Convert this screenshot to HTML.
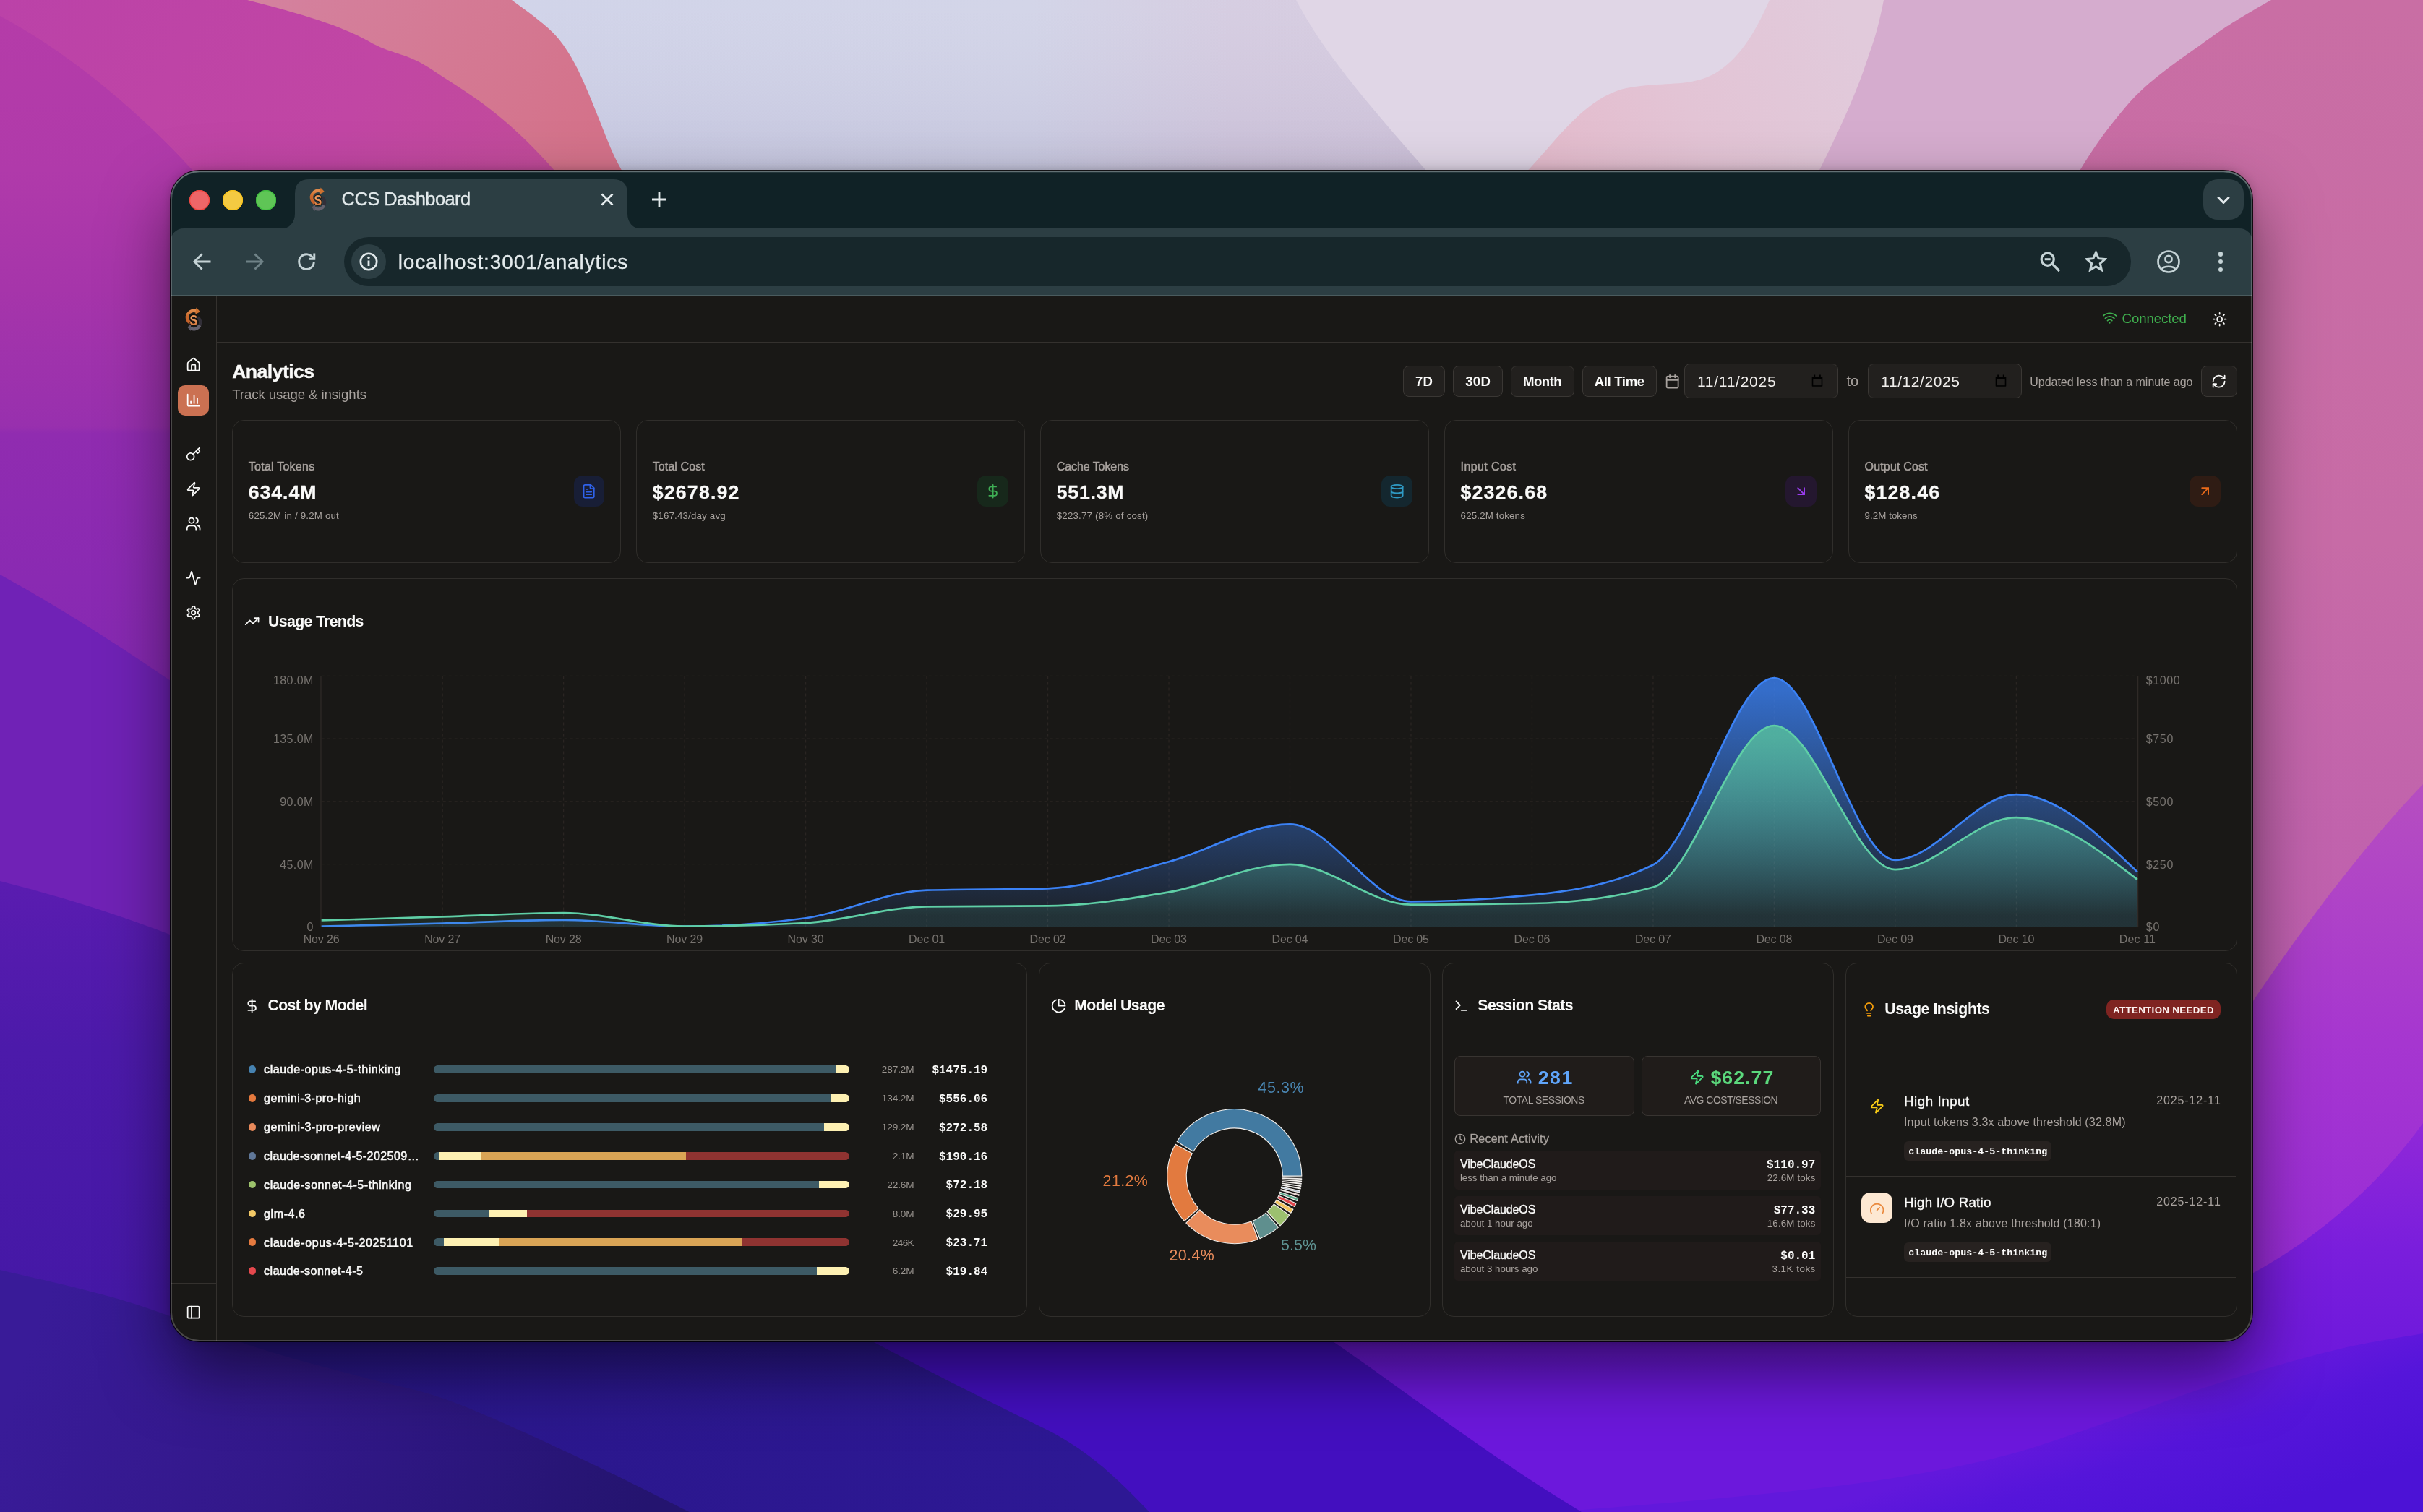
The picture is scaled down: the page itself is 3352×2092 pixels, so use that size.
<!DOCTYPE html>
<html lang="en"><head><meta charset="utf-8"><title>CCS Dashboard</title>
<style>
html,body{margin:0;padding:0;width:3352px;height:2092px;overflow:hidden;background:#7a24b2}
body{position:relative;font-family:"Liberation Sans",sans-serif}
#win{position:absolute;left:236px;top:236px;width:2880px;height:1620px;border-radius:40px;overflow:hidden;background:#191816;will-change:transform}
#shadow{position:absolute;left:236px;top:236px;width:2880px;height:1620px;border-radius:40px;box-shadow:0 0 0 1px rgba(0,0,0,0.88),0 42px 92px 0 rgba(0,0,0,0.52),0 0 14px 0 rgba(0,0,0,0.22)}
#rim{position:absolute;left:0;top:0;width:2880px;height:1620px;border-radius:40px;box-shadow:inset 0 0 0 2px rgba(255,255,255,0.215),inset 0 2.5px 0 0 rgba(225,240,242,0.2);pointer-events:none}
</style></head><body>
<svg id="wall" width="3352" height="2092" viewBox="0 0 3352 2092" style="position:absolute;left:0;top:0">
<defs>
<linearGradient id="gL" gradientUnits="userSpaceOnUse" x1="0" y1="0" x2="0" y2="1000">
 <stop offset="0" stop-color="#b53ca8"/><stop offset="0.235" stop-color="#b03aaa"/><stop offset="0.4" stop-color="#a635aa"/>
 <stop offset="0.59" stop-color="#9830ae"/><stop offset="0.6" stop-color="#902cb0"/><stop offset="0.8" stop-color="#8a2ab2"/><stop offset="1" stop-color="#8428b2"/>
</linearGradient>
<linearGradient id="gMag" x1="0" y1="0" x2="1" y2="0.35">
 <stop offset="0" stop-color="#bb42a8"/><stop offset="0.55" stop-color="#c146a4"/><stop offset="1" stop-color="#c24e94"/>
</linearGradient>
<linearGradient id="gSal" x1="0" y1="0" x2="1" y2="0.3">
 <stop offset="0" stop-color="#d4829f"/><stop offset="1" stop-color="#d4728a"/>
</linearGradient>
<linearGradient id="gLav" x1="0" y1="0" x2="1" y2="0">
 <stop offset="0" stop-color="#cfd2e8"/><stop offset="0.36" stop-color="#d1d3e7"/><stop offset="0.5" stop-color="#d4cbe0"/><stop offset="1" stop-color="#d8c8dc"/>
</linearGradient>
<linearGradient id="gLavV" x1="0" y1="0" x2="0" y2="1">
 <stop offset="0" stop-color="#fff" stop-opacity="0.05"/><stop offset="1" stop-color="#6a5a90" stop-opacity="0.12"/>
</linearGradient>
<linearGradient id="gPinkR" x1="0" y1="0" x2="0" y2="1">
 <stop offset="0" stop-color="#c96ea4"/><stop offset="0.5" stop-color="#c76ba6"/><stop offset="1" stop-color="#bc5cb2"/>
</linearGradient>
<linearGradient id="gPurR" gradientUnits="userSpaceOnUse" x1="0" y1="1085" x2="0" y2="1800">
 <stop offset="0" stop-color="#b64ec0"/><stop offset="0.5" stop-color="#a636d0"/><stop offset="1" stop-color="#962ad8"/>
</linearGradient>
<filter id="soft" x="-10%" y="-10%" width="120%" height="120%"><feGaussianBlur stdDeviation="7"/></filter>
<filter id="soft2" x="-10%" y="-10%" width="120%" height="120%"><feGaussianBlur stdDeviation="3"/></filter>
<linearGradient id="gVioB" gradientUnits="userSpaceOnUse" x1="0" y1="1554" x2="0" y2="1900">
 <stop offset="0" stop-color="#9028d8"/><stop offset="0.5" stop-color="#7a1edc"/><stop offset="1" stop-color="#6c18dc"/>
</linearGradient>
<linearGradient id="gBlueV" gradientUnits="userSpaceOnUse" x1="2880" y1="1975" x2="2935" y2="2150">
 <stop offset="0" stop-color="#6218dc"/><stop offset="0.35" stop-color="#5515da"/><stop offset="1" stop-color="#4c12d6"/>
</linearGradient>
<linearGradient id="gB" gradientUnits="userSpaceOnUse" x1="400" y1="1850" x2="1500" y2="2092">
 <stop offset="0" stop-color="#2a178a"/><stop offset="1" stop-color="#2d1894"/>
</linearGradient>
<linearGradient id="gBV" gradientUnits="userSpaceOnUse" x1="0" y1="1219" x2="0" y2="1800">
 <stop offset="0" stop-color="#5a1cb0"/><stop offset="0.4" stop-color="#4c1aaa"/><stop offset="1" stop-color="#4518a6"/>
</linearGradient>
<linearGradient id="gA" gradientUnits="userSpaceOnUse" x1="60" y1="1800" x2="900" y2="2080">
 <stop offset="0" stop-color="#391b98"/><stop offset="0.45" stop-color="#321889"/><stop offset="1" stop-color="#24146f"/>
</linearGradient>
<linearGradient id="gBlob" gradientUnits="userSpaceOnUse" x1="2150" y1="245" x2="2560" y2="40">
 <stop offset="0" stop-color="#e4bccd"/><stop offset="0.45" stop-color="#e3c4d5"/><stop offset="1" stop-color="#e1cadb"/>
</linearGradient>
</defs>
<rect width="3352" height="2092" fill="#7a24b2"/>
<path d="M0 0 H900 V700 H0Z" fill="url(#gMag)"/>
<path d="M0 22 C90 70 190 150 275 245 L300 1100 L0 1100Z" fill="url(#gL)"/>
<path d="M342 0 C420 20 470 35 510 57 C540 75 560 72 594 94 C630 118 660 135 693 163 C720 186 745 210 775 245 L900 245 L900 0Z" fill="url(#gSal)"/>
<path d="M708 0 C735 20 757 35 773 54 C790 75 802 100 812 124 C824 152 833 176 842 198 C850 218 857 230 868 250 L2700 250 L2700 0Z" fill="url(#gLav)"/>
<path d="M708 0 C735 20 757 35 773 54 C790 75 802 100 812 124 C824 152 833 176 842 198 C850 218 857 230 868 250 L2700 250 L2700 0Z" fill="url(#gLavV)"/>
<path d="M1793 0 C1830 70 1880 130 1981 245 L2700 245 L2700 0Z" fill="#e0d6e6"/>
<path d="M2105 245 C2150 200 2190 135 2250 122 C2300 112 2340 122 2375 100 C2410 78 2430 40 2448 0 L2700 0 L2700 245Z" fill="url(#gBlob)"/>
<path d="M2606 0 C2600 30 2595 50 2586 74 C2570 125 2545 180 2512 245 L3352 245 L3352 0Z" fill="#d5acce"/>
<path d="M3142 0 C3110 18 3090 30 3068 45 C3020 80 2975 108 2944 144 C2915 178 2895 205 2872 245 L2872 1500 L3352 1500 L3352 0Z" fill="url(#gPinkR)"/>
<path d="M3352 1085 C3270 1170 3180 1290 3100 1410 L3000 1560 L3000 2092 L3352 2092Z" fill="url(#gPurR)"/>
<path d="M3500 1400 L3352 1554 C3290 1640 3200 1720 3100 1770 L2900 1850 L1700 1850 L1700 2300 L3500 2300Z" fill="url(#gVioB)"/>
<path d="M3500 1820 L3352 1845C3331.7 1848.8 3277.3 1856.5 3230 1868C3182.7 1879.5 3119.7 1897.7 3068 1914C3016.3 1930.3 2969.2 1949.3 2920 1966C2870.8 1982.7 2826.3 2000.3 2773 2014C2719.7 2027.7 2662.2 2038.5 2600 2048C2537.8 2057.5 2466.7 2064.3 2400 2071C2333.3 2077.7 2250.0 2083.8 2200 2088C2150.0 2092.2 2116.7 2094.7 2100 2096 L2100 2300 L3500 2300Z" fill="url(#gBlueV)"/>
<path d="M1100 1800 L1790 1820 C1900 1890 2050 2010 2188 2092 L1100 2092Z" fill="#430fbf"/>
<path d="M200 1700 L1140 1820 C1250 1880 1350 1930 1452 1980 C1510 2010 1550 2050 1590 2092 L200 2092Z" fill="url(#gB)"/>
<path d="M0 795 C90 845 170 895 320 1000 L320 1900 L0 1900Z" fill="#7022b6"/>
<path d="M0 1219 C100 1245 200 1275 320 1328 L320 1900 L0 1900Z" fill="url(#gBV)"/>
<path d="M0 1757C28.8 1764.2 113.0 1781.8 173 1800C233.0 1818.2 305.5 1848.5 360 1866C414.5 1883.5 456.3 1893.0 500 1905C543.7 1917.0 572.8 1919.8 622 1938C671.2 1956.2 739.7 1988.3 795 2014C850.3 2039.7 927.5 2079.0 954 2092 L0 2092Z" fill="url(#gA)"/>
</svg>
<div id="shadow"></div>
<div id="win">
<div style="position:absolute;left:0.00px;top:0.00px;width:2880.00px;height:120.00px;background:#102226"></div>
<div style="position:absolute;left:0.00px;top:80.00px;width:2880.00px;height:94.30px;background:#2c3e43;border-radius:18px 18px 0 0"></div>
<div style="position:absolute;left:0.00px;top:172.30px;width:2880.00px;height:2.00px;background:#4a5b5e"></div>
<div style="position:absolute;left:26.00px;top:27.00px;width:28.00px;height:28.00px;background:#ed6668;border-radius:50%;box-shadow:inset 0 0 0 1.2px #f2453f"></div>
<div style="position:absolute;left:72.00px;top:27.00px;width:28.00px;height:28.00px;background:#f4ca42;border-radius:50%;box-shadow:inset 0 0 0 1.2px #f9c31a"></div>
<div style="position:absolute;left:118.00px;top:27.00px;width:28.00px;height:28.00px;background:#5fc556;border-radius:50%;box-shadow:inset 0 0 0 1.2px #3fbf3f"></div>
<svg style="position:absolute;left:0;top:0" width="2880" height="100"><path d="M150 81 C164 81 172 73 172 59 L172 32 Q172 12 192 12 L612 12 Q632 12 632 32 L632 59 C632 73 640 81 654 81 Z" fill="#2c3e43"/></svg>
<svg width="40" height="40" viewBox="0 0 40 40" style="position:absolute;left:184.30px;top:19.00px">
<defs><linearGradient id="lgob" x1="0" y1="0" x2="0" y2="1"><stop offset="0" stop-color="#e08a4a"/><stop offset="0.45" stop-color="#c9682b"/><stop offset="1" stop-color="#c4602a"/></linearGradient>
<linearGradient id="lgsb" x1="0" y1="0" x2="0" y2="1"><stop offset="0" stop-color="#d9783a"/><stop offset="0.4" stop-color="#f0a268"/><stop offset="1" stop-color="#d06a2c"/></linearGradient></defs>
<path d="M25.63 17.99A9.15 9.15 0 0 1 28.29 29.07" fill="none" stroke="#322f38" stroke-width="4.400"/>
<path d="M28.29 29.07A9.15 9.15 0 0 1 14.37 32.41" fill="none" stroke="#66626e" stroke-width="4.400"/>
<path d="M16.200 27 11.400 31.700 15.800 37Z" fill="#5e5a66"/>
<path d="M15.15 25.76A9.15 9.15 0 0 1 23.72 9.64" fill="none" stroke="url(#lgob)" stroke-width="4.400"/>
<path d="M23.500 4.600 29 10.300 22.300 13.800Z" fill="#cf7230"/>
<text x="20" y="28.500" text-anchor="middle" font-family="Liberation Sans,sans-serif" font-weight="700" font-size="20" textLength="10.8" lengthAdjust="spacingAndGlyphs" fill="url(#lgsb)" stroke="#120c08" stroke-width="1.600" paint-order="stroke">S</text>
</svg>
<span style='position:absolute;left:236.60px;top:27.31px;font:400 25.50px/25.50px "Liberation Sans",sans-serif;color:#e3eaec;white-space:pre;letter-spacing:-0.590px;-webkit-text-stroke:0.3px #e3eaec;'>CCS Dashboard</span>
<svg style="position:absolute;left:591.7px;top:27.80000000000001px" width="24" height="24" viewBox="0 0 24 24"><path d="M4.500 4.500 19.500 19.500M19.500 4.500 4.500 19.500" stroke="#e3eaec" stroke-width="2.600" fill="none"/></svg>
<svg style="position:absolute;left:661.8px;top:26.19999999999999px" width="28" height="28" viewBox="0 0 28 28"><path d="M14 4V24M4 14H24" stroke="#e3eaec" stroke-width="2.800" fill="none"/></svg>
<div style="position:absolute;left:2812.00px;top:12.00px;width:56.00px;height:56.00px;background:#2c3e43;border-radius:20px"></div>
<svg style="position:absolute;left:2827.8px;top:28.5px" width="24" height="24" viewBox="0 0 24 24"><path d="M5 8.500 12 15.500 19 8.500" stroke="#e3eaec" stroke-width="3" fill="none" stroke-linecap="round" stroke-linejoin="round"/></svg>
<svg style="position:absolute;left:28px;top:110px" width="32" height="32" viewBox="0 0 32 32"><g><path d="M27.500 16H6M15.500 5.500 5 16 15.500 26.500" stroke="#c5d3d6" stroke-width="2.900" fill="none" stroke-linejoin="miter"/></g></svg>
<svg style="position:absolute;left:99.60000000000002px;top:110px" width="32" height="32" viewBox="0 0 32 32"><g transform="translate(32 0) scale(-1 1)"><path d="M27.500 16H6M15.500 5.500 5 16 15.500 26.500" stroke="#6f8287" stroke-width="2.900" fill="none" stroke-linejoin="miter"/></g></svg>
<svg style="position:absolute;left:172px;top:110px" width="32" height="32" viewBox="0 0 32 32"><path d="M25.200 11.500A10.300 10.300 0 1 0 26.300 16" stroke="#c5d3d6" stroke-width="2.900" fill="none"/><path d="M26.800 4.500V12.300H19" stroke="#c5d3d6" stroke-width="2.900" fill="none"/></svg>
<div style="position:absolute;left:240.00px;top:92.00px;width:2472.00px;height:68.00px;background:#17272b;border-radius:34px"></div>
<div style="position:absolute;left:249.70px;top:102.00px;width:48.00px;height:48.00px;background:#2c3e43;border-radius:50%"></div>
<svg style="position:absolute;left:257.7px;top:110px" width="32" height="32" viewBox="0 0 32 32"><circle cx="16" cy="16" r="11.200" stroke="#e3eaec" stroke-width="2.600" fill="none"/><path d="M16 14.500V22" stroke="#e3eaec" stroke-width="2.800"/><circle cx="16" cy="10.500" r="1.700" fill="#e3eaec"/></svg>
<span style='position:absolute;left:314.70px;top:112.50px;font:400 28.00px/28.00px "Liberation Sans",sans-serif;color:#e3eaec;white-space:pre;letter-spacing:0.878px;-webkit-text-stroke:0.3px #e3eaec;'>localhost:3001/analytics</span>
<svg style="position:absolute;left:2583.7px;top:109.5px" width="32" height="32" viewBox="0 0 32 32"><circle cx="12.700" cy="12.700" r="8.600" stroke="#c5d3d6" stroke-width="3.200" fill="none"/><path d="M19.200 19.200 29 29" stroke="#c5d3d6" stroke-width="3.300"/><path d="M8.700 12.700H16.700" stroke="#c5d3d6" stroke-width="3"/></svg>
<svg style="position:absolute;left:2648.4px;top:109.5px" width="31" height="31" viewBox="0 0 34 34"><path d="M17 3.500 21 12.800 31 13.700 23.400 20.300 25.700 30.200 17 25 8.300 30.200 10.600 20.300 3 13.700 13 12.800Z" stroke="#c5d3d6" stroke-width="3.300" fill="none" stroke-linejoin="miter"/></svg>
<svg style="position:absolute;left:2746.8px;top:109px" width="34" height="34" viewBox="0 0 34 34"><circle cx="17" cy="17" r="14.500" stroke="#c5d3d6" stroke-width="2.700" fill="none"/><circle cx="17" cy="13.500" r="4.600" stroke="#c5d3d6" stroke-width="2.700" fill="none"/><path d="M7.500 27.500C10.500 22.500 23.500 22.500 26.500 27.500" stroke="#c5d3d6" stroke-width="2.700" fill="none"/></svg>
<div style="position:absolute;left:2832.50px;top:112.00px;width:6.60px;height:6.60px;background:#c5d3d6;border-radius:50%"></div>
<div style="position:absolute;left:2832.50px;top:122.90px;width:6.60px;height:6.60px;background:#c5d3d6;border-radius:50%"></div>
<div style="position:absolute;left:2832.50px;top:133.80px;width:6.60px;height:6.60px;background:#c5d3d6;border-radius:50%"></div>
<div style="position:absolute;left:0.00px;top:174.30px;width:2880.00px;height:1445.00px;background:#191816"></div>
<div style="position:absolute;left:63.00px;top:173.00px;width:1.00px;height:1446.00px;background:#34312e"></div>
<div style="position:absolute;left:0.00px;top:1539.00px;width:63.00px;height:1.00px;background:#34312e"></div>
<div style="position:absolute;left:64.00px;top:237.00px;width:2816.00px;height:1.00px;background:#34312e"></div>
<svg width="40" height="40" viewBox="0 0 40 40" style="position:absolute;left:12.00px;top:185.00px">
<defs><linearGradient id="lgoa" x1="0" y1="0" x2="0" y2="1"><stop offset="0" stop-color="#e08a4a"/><stop offset="0.45" stop-color="#c9682b"/><stop offset="1" stop-color="#c4602a"/></linearGradient>
<linearGradient id="lgsa" x1="0" y1="0" x2="0" y2="1"><stop offset="0" stop-color="#d9783a"/><stop offset="0.4" stop-color="#f0a268"/><stop offset="1" stop-color="#d06a2c"/></linearGradient></defs>
<path d="M25.63 17.99A9.15 9.15 0 0 1 28.29 29.07" fill="none" stroke="#322f38" stroke-width="4.400"/>
<path d="M28.29 29.07A9.15 9.15 0 0 1 14.37 32.41" fill="none" stroke="#66626e" stroke-width="4.400"/>
<path d="M16.200 27 11.400 31.700 15.800 37Z" fill="#5e5a66"/>
<path d="M15.15 25.76A9.15 9.15 0 0 1 23.72 9.64" fill="none" stroke="url(#lgoa)" stroke-width="4.400"/>
<path d="M23.500 4.600 29 10.300 22.300 13.800Z" fill="#cf7230"/>
<text x="20" y="28.500" text-anchor="middle" font-family="Liberation Sans,sans-serif" font-weight="700" font-size="20" textLength="10.8" lengthAdjust="spacingAndGlyphs" fill="url(#lgsa)" stroke="#120c08" stroke-width="1.600" paint-order="stroke">S</text>
</svg>
<svg style="position:absolute;left:21.34px;top:258.33px;" width="21.33" height="21.33" viewBox="0 0 24 24" fill="none" stroke="#fafaf9" stroke-width="2" stroke-linecap="round" stroke-linejoin="round"><path d="M15 21v-8a1 1 0 0 0-1-1h-4a1 1 0 0 0-1 1v8"/><path d="M3 10a2 2 0 0 1 .709-1.528l7-5.999a2 2 0 0 1 2.582 0l7 5.999A2 2 0 0 1 21 10v9a2 2 0 0 1-2 2H5a2 2 0 0 1-2-2z"/></svg>
<div style="position:absolute;left:9.80px;top:297.20px;width:43.00px;height:41.60px;background:#cb7152;border-radius:10px"></div>
<svg style="position:absolute;left:21.34px;top:307.33px;" width="21.33" height="21.33" viewBox="0 0 24 24" fill="none" stroke="#fff" stroke-width="2" stroke-linecap="round" stroke-linejoin="round"><path d="M3 3v16a2 2 0 0 0 2 2h16"/><path d="M18 17V9"/><path d="M13 17V5"/><path d="M8 17v-3"/></svg>
<svg style="position:absolute;left:21.34px;top:381.73px;" width="21.33" height="21.33" viewBox="0 0 24 24" fill="none" stroke="#fafaf9" stroke-width="2" stroke-linecap="round" stroke-linejoin="round"><path d="m15.5 7.5 2.300 2.300a1 1 0 0 0 1.400 0l2.100-2.100a1 1 0 0 0 0-1.400L19 4"/><path d="m21 2-9.600 9.600"/><circle cx="7.500" cy="15.500" r="5.500"/></svg>
<svg style="position:absolute;left:21.34px;top:429.63px;" width="21.33" height="21.33" viewBox="0 0 24 24" fill="none" stroke="#fafaf9" stroke-width="2" stroke-linecap="round" stroke-linejoin="round"><path d="M4 14a1 1 0 0 1-.780-1.630l9.900-10.200a.5.5 0 0 1 .860.460l-1.920 6.020A1 1 0 0 0 13 10h7a1 1 0 0 1 .780 1.630l-9.900 10.200a.5.5 0 0 1-.860-.460l1.920-6.020A1 1 0 0 0 11 14z"/></svg>
<svg style="position:absolute;left:21.34px;top:478.13px;" width="21.33" height="21.33" viewBox="0 0 24 24" fill="none" stroke="#fafaf9" stroke-width="2" stroke-linecap="round" stroke-linejoin="round"><path d="M16 21v-2a4 4 0 0 0-4-4H6a4 4 0 0 0-4 4v2"/><circle cx="9" cy="7" r="4"/><path d="M22 21v-2a4 4 0 0 0-3-3.870"/><path d="M16 3.130a4 4 0 0 1 0 7.750"/></svg>
<svg style="position:absolute;left:21.34px;top:552.54px;" width="21.33" height="21.33" viewBox="0 0 24 24" fill="none" stroke="#fafaf9" stroke-width="2" stroke-linecap="round" stroke-linejoin="round"><path d="M22 12h-2.480a2 2 0 0 0-1.930 1.460l-2.350 8.360a.25.25 0 0 1-.480 0L9.240 2.180a.25.25 0 0 0-.480 0l-2.350 8.360A2 2 0 0 1 4.490 12H2"/></svg>
<svg style="position:absolute;left:21.34px;top:600.84px;" width="21.33" height="21.33" viewBox="0 0 24 24" fill="none" stroke="#fafaf9" stroke-width="2" stroke-linecap="round" stroke-linejoin="round"><path d="M12.220 2h-.440a2 2 0 0 0-2 2v.180a2 2 0 0 1-1 1.730l-.430.250a2 2 0 0 1-2 0l-.150-.080a2 2 0 0 0-2.730.730l-.220.380a2 2 0 0 0 .730 2.730l.150.100a2 2 0 0 1 1 1.720v.510a2 2 0 0 1-1 1.740l-.150.090a2 2 0 0 0-.730 2.730l.220.380a2 2 0 0 0 2.730.730l.150-.080a2 2 0 0 1 2 0l.430.250a2 2 0 0 1 1 1.730V20a2 2 0 0 0 2 2h.440a2 2 0 0 0 2-2v-.180a2 2 0 0 1 1-1.730l.430-.250a2 2 0 0 1 2 0l.150.080a2 2 0 0 0 2.730-.730l.220-.390a2 2 0 0 0-.730-2.730l-.150-.080a2 2 0 0 1-1-1.740v-.500a2 2 0 0 1 1-1.740l.150-.090a2 2 0 0 0 .730-2.730l-.220-.380a2 2 0 0 0-2.730-.730l-.150.080a2 2 0 0 1-2 0l-.430-.250a2 2 0 0 1-1-1.730V4a2 2 0 0 0-2-2z"/><circle cx="12" cy="12" r="3"/></svg>
<svg style="position:absolute;left:21.03px;top:1568.93px;" width="21.33" height="21.33" viewBox="0 0 24 24" fill="none" stroke="#fafaf9" stroke-width="2" stroke-linecap="round" stroke-linejoin="round"><rect width="18" height="18" x="3" y="3" rx="2"/><path d="M9 3v18"/></svg>
<svg style="position:absolute;left:2671.75px;top:192.85px;" width="21.30" height="21.30" viewBox="0 0 24 24" fill="none" stroke="#3fae4e" stroke-width="2" stroke-linecap="round" stroke-linejoin="round"><path d="M12 20h.01"/><path d="M2 8.820a15 15 0 0 1 20 0"/><path d="M5 12.859a10 10 0 0 1 14 0"/><path d="M8.500 16.429a5 5 0 0 1 7 0"/></svg>
<span style='position:absolute;left:2699.60px;top:196.40px;font:400 18.67px/18.67px "Liberation Sans",sans-serif;color:#3fae4e;white-space:pre;letter-spacing:-0.126px;'>Connected</span>
<svg style="position:absolute;left:2823.85px;top:194.95px;" width="21.30" height="21.30" viewBox="0 0 24 24" fill="none" stroke="#fafaf9" stroke-width="2" stroke-linecap="round" stroke-linejoin="round"><circle cx="12" cy="12" r="4"/><path d="M12 2v2"/><path d="M12 20v2"/><path d="m4.930 4.930 1.410 1.410"/><path d="m17.660 17.660 1.410 1.410"/><path d="M2 12h2"/><path d="M20 12h2"/><path d="m6.340 17.660-1.410 1.410"/><path d="m19.070 4.930-1.410 1.410"/></svg>
<span style='position:absolute;left:85.20px;top:264.72px;font:700 26.67px/26.67px "Liberation Sans",sans-serif;color:#fafaf9;white-space:pre;letter-spacing:-0.573px;-webkit-text-stroke:0.35px #fafaf9;'>Analytics</span>
<span style='position:absolute;left:85.20px;top:301.20px;font:400 18.67px/18.67px "Liberation Sans",sans-serif;color:#a8a29e;white-space:pre;letter-spacing:-0.103px;'>Track usage &amp; insights</span>
<div style="position:absolute;left:1705.00px;top:270.00px;width:57.90px;height:42.70px;background:#22201e;border:1.33px solid #3a3734;border-radius:8px;box-sizing:border-box"></div>
<span style='position:absolute;left:1721.90px;top:283.16px;font:700 18.60px/18.60px "Liberation Sans",sans-serif;color:#fafaf9;white-space:pre;letter-spacing:0.323px;'>7D</span>
<div style="position:absolute;left:1774.10px;top:270.00px;width:68.80px;height:42.70px;background:#22201e;border:1.33px solid #3a3734;border-radius:8px;box-sizing:border-box"></div>
<span style='position:absolute;left:1791.15px;top:283.16px;font:700 18.60px/18.60px "Liberation Sans",sans-serif;color:#fafaf9;white-space:pre;letter-spacing:0.289px;'>30D</span>
<div style="position:absolute;left:1853.80px;top:270.00px;width:88.00px;height:42.70px;background:#22201e;border:1.33px solid #3a3734;border-radius:8px;box-sizing:border-box"></div>
<span style='position:absolute;left:1871.00px;top:283.16px;font:700 18.60px/18.60px "Liberation Sans",sans-serif;color:#fafaf9;white-space:pre;letter-spacing:-0.544px;'>Month</span>
<div style="position:absolute;left:1953.00px;top:270.00px;width:102.90px;height:42.70px;background:#22201e;border:1.33px solid #3a3734;border-radius:8px;box-sizing:border-box"></div>
<span style='position:absolute;left:1969.75px;top:283.16px;font:700 18.60px/18.60px "Liberation Sans",sans-serif;color:#fafaf9;white-space:pre;letter-spacing:-0.373px;'>All Time</span>
<svg style="position:absolute;left:2067.05px;top:280.85px;" width="21.30" height="21.30" viewBox="0 0 24 24" fill="none" stroke="#a8a29e" stroke-width="2" stroke-linecap="round" stroke-linejoin="round"><path d="M8 2v4"/><path d="M16 2v4"/><rect width="18" height="18" x="3" y="4" rx="2"/><path d="M3 10h18"/></svg>
<div style="position:absolute;left:2093.90px;top:267.00px;width:213.00px;height:47.70px;background:#22201e;border:1.33px solid #3a3734;border-radius:8px;box-sizing:border-box"></div>
<span style='position:absolute;left:2112.00px;top:281.12px;font:400 21.00px/21.00px "Liberation Sans",sans-serif;color:#f0eeec;white-space:pre;letter-spacing:0.735px;'>11/11/2025</span>
<svg style="position:absolute;left:2269.8px;top:281.5px" width="16" height="18" viewBox="0 0 16 18"><path d="M1.500 3h13a.8.8 0 0 1 .8.8V16a.8.8 0 0 1-.8.8h-13A.8.8 0 0 1 .7 16V3.800A.8.8 0 0 1 1.500 3z" fill="#000"/><rect x="3.200" y="0.500" width="2" height="4" fill="#000"/><rect x="10.800" y="0.500" width="2" height="4" fill="#000"/><rect x="2.300" y="6.200" width="11.400" height="9" fill="#22201e"/></svg>
<div style="position:absolute;left:2348.00px;top:267.00px;width:212.70px;height:47.70px;background:#22201e;border:1.33px solid #3a3734;border-radius:8px;box-sizing:border-box"></div>
<span style='position:absolute;left:2366.30px;top:281.12px;font:400 21.00px/21.00px "Liberation Sans",sans-serif;color:#f0eeec;white-space:pre;letter-spacing:0.562px;'>11/12/2025</span>
<svg style="position:absolute;left:2523.6px;top:281.5px" width="16" height="18" viewBox="0 0 16 18"><path d="M1.500 3h13a.8.8 0 0 1 .8.8V16a.8.8 0 0 1-.8.8h-13A.8.8 0 0 1 .7 16V3.800A.8.8 0 0 1 1.500 3z" fill="#000"/><rect x="3.200" y="0.500" width="2" height="4" fill="#000"/><rect x="10.800" y="0.500" width="2" height="4" fill="#000"/><rect x="2.300" y="6.200" width="11.400" height="9" fill="#22201e"/></svg>
<span style='position:absolute;left:2318.50px;top:281.27px;font:400 20.00px/20.00px "Liberation Sans",sans-serif;color:#a8a29e;white-space:pre;letter-spacing:0.000px;'>to</span>
<span style='position:absolute;left:2572.30px;top:284.66px;font:400 16.00px/16.00px "Liberation Sans",sans-serif;color:#a8a29e;white-space:pre;letter-spacing:-0.025px;'>Updated less than a minute ago</span>
<div style="position:absolute;left:2809.00px;top:270.00px;width:49.70px;height:42.70px;background:#22201e;border:1.33px solid #3a3734;border-radius:8px;box-sizing:border-box"></div>
<svg style="position:absolute;left:2823.25px;top:280.75px;" width="21.30" height="21.30" viewBox="0 0 24 24" fill="none" stroke="#fafaf9" stroke-width="2" stroke-linecap="round" stroke-linejoin="round"><path d="M3 12a9 9 0 0 1 9-9 9.750 9.750 0 0 1 6.740 2.740L21 8"/><path d="M21 3v5h-5"/><path d="M21 12a9 9 0 0 1-9 9 9.750 9.750 0 0 1-6.740-2.740L3 16"/><path d="M8 16H3v5"/></svg>
<div style="position:absolute;left:85.33px;top:345.00px;width:537.60px;height:198.20px;border:1.33px solid #302e2b;border-radius:16px;box-sizing:border-box;background:#191816"></div>
<span style='position:absolute;left:107.83px;top:402.36px;font:400 16.00px/16.00px "Liberation Sans",sans-serif;color:#a8a29e;white-space:pre;letter-spacing:0.241px;-webkit-text-stroke:0.5px #a8a29e;'>Total Tokens</span>
<span style='position:absolute;left:107.83px;top:431.72px;font:700 26.67px/26.67px "Liberation Sans",sans-serif;color:#fafaf9;white-space:pre;letter-spacing:0.928px;-webkit-text-stroke:0.3px #fafaf9;'>634.4M</span>
<span style='position:absolute;left:107.83px;top:471.42px;font:400 13.33px/13.33px "Liberation Sans",sans-serif;color:#a8a29e;white-space:pre;letter-spacing:0.183px;'>625.2M in / 9.2M out</span>
<div style="position:absolute;left:557.53px;top:422.20px;width:42.70px;height:42.70px;background:#181e36;border-radius:12px"></div>
<svg style="position:absolute;left:568.23px;top:432.90px;" width="21.30" height="21.30" viewBox="0 0 24 24" fill="none" stroke="#2f62ea" stroke-width="2" stroke-linecap="round" stroke-linejoin="round"><path d="M15 2H6a2 2 0 0 0-2 2v16a2 2 0 0 0 2 2h12a2 2 0 0 0 2-2V7Z"/><path d="M14 2v4a2 2 0 0 0 2 2h4"/><path d="M10 9H8"/><path d="M16 13H8"/><path d="M16 17H8"/></svg>
<div style="position:absolute;left:644.26px;top:345.00px;width:537.60px;height:198.20px;border:1.33px solid #302e2b;border-radius:16px;box-sizing:border-box;background:#191816"></div>
<span style='position:absolute;left:666.76px;top:402.36px;font:400 16.00px/16.00px "Liberation Sans",sans-serif;color:#a8a29e;white-space:pre;letter-spacing:0.095px;-webkit-text-stroke:0.5px #a8a29e;'>Total Cost</span>
<span style='position:absolute;left:666.76px;top:431.72px;font:700 26.67px/26.67px "Liberation Sans",sans-serif;color:#fafaf9;white-space:pre;letter-spacing:1.208px;-webkit-text-stroke:0.3px #fafaf9;'>$2678.92</span>
<span style='position:absolute;left:666.76px;top:471.42px;font:400 13.33px/13.33px "Liberation Sans",sans-serif;color:#a8a29e;white-space:pre;letter-spacing:0.166px;'>$167.43/day avg</span>
<div style="position:absolute;left:1116.46px;top:422.20px;width:42.70px;height:42.70px;background:#17281b;border-radius:12px"></div>
<svg style="position:absolute;left:1127.16px;top:432.90px;" width="21.30" height="21.30" viewBox="0 0 24 24" fill="none" stroke="#3fae55" stroke-width="2" stroke-linecap="round" stroke-linejoin="round"><line x1="12" x2="12" y1="2" y2="22"/><path d="M17 5H9.500a3.500 3.500 0 0 0 0 7h5a3.500 3.500 0 0 1 0 7H6"/></svg>
<div style="position:absolute;left:1203.19px;top:345.00px;width:537.60px;height:198.20px;border:1.33px solid #302e2b;border-radius:16px;box-sizing:border-box;background:#191816"></div>
<span style='position:absolute;left:1225.69px;top:402.36px;font:400 16.00px/16.00px "Liberation Sans",sans-serif;color:#a8a29e;white-space:pre;letter-spacing:-0.073px;-webkit-text-stroke:0.5px #a8a29e;'>Cache Tokens</span>
<span style='position:absolute;left:1225.69px;top:431.72px;font:700 26.67px/26.67px "Liberation Sans",sans-serif;color:#fafaf9;white-space:pre;letter-spacing:0.788px;-webkit-text-stroke:0.3px #fafaf9;'>551.3M</span>
<span style='position:absolute;left:1225.69px;top:471.42px;font:400 13.33px/13.33px "Liberation Sans",sans-serif;color:#a8a29e;white-space:pre;letter-spacing:0.189px;'>$223.77 (8% of cost)</span>
<div style="position:absolute;left:1675.39px;top:422.20px;width:42.70px;height:42.70px;background:#14272f;border-radius:12px"></div>
<svg style="position:absolute;left:1686.09px;top:432.90px;" width="21.30" height="21.30" viewBox="0 0 24 24" fill="none" stroke="#2f9ac4" stroke-width="2" stroke-linecap="round" stroke-linejoin="round"><ellipse cx="12" cy="5" rx="9" ry="3"/><path d="M3 5V19A9 3 0 0 0 21 19V5"/><path d="M3 12A9 3 0 0 0 21 12"/></svg>
<div style="position:absolute;left:1762.12px;top:345.00px;width:537.60px;height:198.20px;border:1.33px solid #302e2b;border-radius:16px;box-sizing:border-box;background:#191816"></div>
<span style='position:absolute;left:1784.62px;top:402.36px;font:400 16.00px/16.00px "Liberation Sans",sans-serif;color:#a8a29e;white-space:pre;letter-spacing:0.386px;-webkit-text-stroke:0.5px #a8a29e;'>Input Cost</span>
<span style='position:absolute;left:1784.62px;top:431.72px;font:700 26.67px/26.67px "Liberation Sans",sans-serif;color:#fafaf9;white-space:pre;letter-spacing:1.166px;-webkit-text-stroke:0.3px #fafaf9;'>$2326.68</span>
<span style='position:absolute;left:1784.62px;top:471.42px;font:400 13.33px/13.33px "Liberation Sans",sans-serif;color:#a8a29e;white-space:pre;letter-spacing:0.147px;'>625.2M tokens</span>
<div style="position:absolute;left:2234.32px;top:422.20px;width:42.70px;height:42.70px;background:#24172f;border-radius:12px"></div>
<svg style="position:absolute;left:2245.02px;top:432.90px;" width="21.30" height="21.30" viewBox="0 0 24 24" fill="none" stroke="#9b3df0" stroke-width="2" stroke-linecap="round" stroke-linejoin="round"><path d="m7 7 10 10"/><path d="M17 7v10H7"/></svg>
<div style="position:absolute;left:2321.05px;top:345.00px;width:537.60px;height:198.20px;border:1.33px solid #302e2b;border-radius:16px;box-sizing:border-box;background:#191816"></div>
<span style='position:absolute;left:2343.55px;top:402.36px;font:400 16.00px/16.00px "Liberation Sans",sans-serif;color:#a8a29e;white-space:pre;letter-spacing:0.163px;-webkit-text-stroke:0.5px #a8a29e;'>Output Cost</span>
<span style='position:absolute;left:2343.55px;top:431.72px;font:700 26.67px/26.67px "Liberation Sans",sans-serif;color:#fafaf9;white-space:pre;letter-spacing:1.182px;-webkit-text-stroke:0.3px #fafaf9;'>$128.46</span>
<span style='position:absolute;left:2343.55px;top:471.42px;font:400 13.33px/13.33px "Liberation Sans",sans-serif;color:#a8a29e;white-space:pre;letter-spacing:0.049px;'>9.2M tokens</span>
<div style="position:absolute;left:2793.25px;top:422.20px;width:42.70px;height:42.70px;background:#2f1c14;border-radius:12px"></div>
<svg style="position:absolute;left:2803.95px;top:432.90px;" width="21.30" height="21.30" viewBox="0 0 24 24" fill="none" stroke="#ea6a1a" stroke-width="2" stroke-linecap="round" stroke-linejoin="round"><path d="M7 7h10v10"/><path d="M7 17 17 7"/></svg>
<div style="position:absolute;left:85.33px;top:564.00px;width:2773.34px;height:515.60px;border:1.33px solid #302e2b;border-radius:16px;box-sizing:border-box;background:#191816"></div>
<svg style="position:absolute;left:102.35px;top:613.35px;" width="21.30" height="21.30" viewBox="0 0 24 24" fill="none" stroke="#fafaf9" stroke-width="2" stroke-linecap="round" stroke-linejoin="round"><polyline points="22 7 13.5 15.5 8.5 10.5 2 17"/><polyline points="16 7 22 7 22 13"/></svg>
<span style='position:absolute;left:135.10px;top:613.64px;font:700 21.33px/21.33px "Liberation Sans",sans-serif;color:#fafaf9;white-space:pre;letter-spacing:-0.690px;'>Usage Trends</span>
<svg style="position:absolute;left:0;top:0" width="2880" height="1620" viewBox="236 236 2880 1620">
<defs><linearGradient id="gb" gradientUnits="userSpaceOnUse" x1="0" y1="938" x2="0" y2="1282"><stop offset="0.05" stop-color="#3b82f6" stop-opacity="0.8"/><stop offset="0.95" stop-color="#3b82f6" stop-opacity="0.1"/></linearGradient>
<linearGradient id="gg" gradientUnits="userSpaceOnUse" x1="0" y1="1004" x2="0" y2="1282"><stop offset="0.05" stop-color="#58c29c" stop-opacity="0.8"/><stop offset="0.95" stop-color="#58c29c" stop-opacity="0.1"/></linearGradient></defs>
<line x1="444.67" x2="2956.87" y1="935.4" y2="935.4" stroke="#2a2522" stroke-width="1.33" stroke-dasharray="4 4"/>
<line x1="444.67" x2="2956.87" y1="1022.15" y2="1022.15" stroke="#2a2522" stroke-width="1.33" stroke-dasharray="4 4"/>
<line x1="444.67" x2="2956.87" y1="1108.9" y2="1108.9" stroke="#2a2522" stroke-width="1.33" stroke-dasharray="4 4"/>
<line x1="444.67" x2="2956.87" y1="1195.65" y2="1195.65" stroke="#2a2522" stroke-width="1.33" stroke-dasharray="4 4"/>
<line x1="612.15" x2="612.15" y1="935.4" y2="1282.4" stroke="#2a2522" stroke-width="1.33" stroke-dasharray="4 4"/>
<line x1="779.63" x2="779.63" y1="935.4" y2="1282.4" stroke="#2a2522" stroke-width="1.33" stroke-dasharray="4 4"/>
<line x1="947.1099999999999" x2="947.1099999999999" y1="935.4" y2="1282.4" stroke="#2a2522" stroke-width="1.33" stroke-dasharray="4 4"/>
<line x1="1114.59" x2="1114.59" y1="935.4" y2="1282.4" stroke="#2a2522" stroke-width="1.33" stroke-dasharray="4 4"/>
<line x1="1282.07" x2="1282.07" y1="935.4" y2="1282.4" stroke="#2a2522" stroke-width="1.33" stroke-dasharray="4 4"/>
<line x1="1449.55" x2="1449.55" y1="935.4" y2="1282.4" stroke="#2a2522" stroke-width="1.33" stroke-dasharray="4 4"/>
<line x1="1617.03" x2="1617.03" y1="935.4" y2="1282.4" stroke="#2a2522" stroke-width="1.33" stroke-dasharray="4 4"/>
<line x1="1784.51" x2="1784.51" y1="935.4" y2="1282.4" stroke="#2a2522" stroke-width="1.33" stroke-dasharray="4 4"/>
<line x1="1951.99" x2="1951.99" y1="935.4" y2="1282.4" stroke="#2a2522" stroke-width="1.33" stroke-dasharray="4 4"/>
<line x1="2119.47" x2="2119.47" y1="935.4" y2="1282.4" stroke="#2a2522" stroke-width="1.33" stroke-dasharray="4 4"/>
<line x1="2286.95" x2="2286.95" y1="935.4" y2="1282.4" stroke="#2a2522" stroke-width="1.33" stroke-dasharray="4 4"/>
<line x1="2454.43" x2="2454.43" y1="935.4" y2="1282.4" stroke="#2a2522" stroke-width="1.33" stroke-dasharray="4 4"/>
<line x1="2621.91" x2="2621.91" y1="935.4" y2="1282.4" stroke="#2a2522" stroke-width="1.33" stroke-dasharray="4 4"/>
<line x1="2789.39" x2="2789.39" y1="935.4" y2="1282.4" stroke="#2a2522" stroke-width="1.33" stroke-dasharray="4 4"/>
<line x1="443.97" x2="443.97" y1="935.4" y2="1282.4" stroke="#2f2a27" stroke-width="1.33"/>
<line x1="2957.5699999999997" x2="2957.5699999999997" y1="935.4" y2="1282.4" stroke="#2f2a27" stroke-width="1.33"/>
<path d="M444.67 1281.60C500.50 1280.27 556.32 1278.93 612.15 1277.50C667.98 1276.07 723.80 1273.00 779.63 1273.00C835.46 1273.00 891.28 1281.60 947.11 1281.60C1002.94 1281.60 1058.76 1277.80 1114.59 1270.20C1170.42 1262.60 1226.24 1233.30 1282.07 1231.70C1337.90 1230.10 1393.72 1230.90 1449.55 1229.30C1505.38 1227.70 1561.20 1207.03 1617.03 1192.20C1672.86 1177.37 1728.68 1140.30 1784.51 1140.30C1840.34 1140.30 1896.16 1247.30 1951.99 1247.30C2007.82 1247.30 2063.64 1244.33 2119.47 1238.40C2175.30 1232.47 2231.12 1224.43 2286.95 1196.50C2342.78 1168.57 2398.60 938.00 2454.43 938.00C2510.26 938.00 2566.08 1189.90 2621.91 1189.90C2677.74 1189.90 2733.56 1099.10 2789.39 1099.10C2845.22 1099.10 2901.04 1152.75 2956.87 1206.40L2956.87 1282.4L444.67 1282.4Z" fill="url(#gb)"/>
<path d="M444.67 1281.60C500.50 1280.27 556.32 1278.93 612.15 1277.50C667.98 1276.07 723.80 1273.00 779.63 1273.00C835.46 1273.00 891.28 1281.60 947.11 1281.60C1002.94 1281.60 1058.76 1277.80 1114.59 1270.20C1170.42 1262.60 1226.24 1233.30 1282.07 1231.70C1337.90 1230.10 1393.72 1230.90 1449.55 1229.30C1505.38 1227.70 1561.20 1207.03 1617.03 1192.20C1672.86 1177.37 1728.68 1140.30 1784.51 1140.30C1840.34 1140.30 1896.16 1247.30 1951.99 1247.30C2007.82 1247.30 2063.64 1244.33 2119.47 1238.40C2175.30 1232.47 2231.12 1224.43 2286.95 1196.50C2342.78 1168.57 2398.60 938.00 2454.43 938.00C2510.26 938.00 2566.08 1189.90 2621.91 1189.90C2677.74 1189.90 2733.56 1099.10 2789.39 1099.10C2845.22 1099.10 2901.04 1152.75 2956.87 1206.40" fill="none" stroke="#3b82f6" stroke-width="2.670"/>
<path d="M444.67 1273.40C500.50 1271.77 556.32 1270.13 612.15 1268.40C667.98 1266.67 723.80 1263.00 779.63 1263.00C835.46 1263.00 891.28 1281.60 947.11 1281.60C1002.94 1281.60 1058.76 1280.07 1114.59 1277.00C1170.42 1273.93 1226.24 1255.07 1282.07 1254.40C1337.90 1253.73 1393.72 1254.07 1449.55 1253.40C1505.38 1252.73 1561.20 1244.00 1617.03 1234.40C1672.86 1224.80 1728.68 1195.80 1784.51 1195.80C1840.34 1195.80 1896.16 1251.60 1951.99 1251.60C2007.82 1251.60 2063.64 1251.07 2119.47 1250.00C2175.30 1248.93 2231.12 1242.50 2286.95 1227.50C2342.78 1212.50 2398.60 1004.00 2454.43 1004.00C2510.26 1004.00 2566.08 1203.10 2621.91 1203.10C2677.74 1203.10 2733.56 1131.10 2789.39 1131.10C2845.22 1131.10 2901.04 1174.00 2956.87 1216.90L2956.87 1282.4L444.67 1282.4Z" fill="url(#gg)"/>
<path d="M444.67 1273.40C500.50 1271.77 556.32 1270.13 612.15 1268.40C667.98 1266.67 723.80 1263.00 779.63 1263.00C835.46 1263.00 891.28 1281.60 947.11 1281.60C1002.94 1281.60 1058.76 1280.07 1114.59 1277.00C1170.42 1273.93 1226.24 1255.07 1282.07 1254.40C1337.90 1253.73 1393.72 1254.07 1449.55 1253.40C1505.38 1252.73 1561.20 1244.00 1617.03 1234.40C1672.86 1224.80 1728.68 1195.80 1784.51 1195.80C1840.34 1195.80 1896.16 1251.60 1951.99 1251.60C2007.82 1251.60 2063.64 1251.07 2119.47 1250.00C2175.30 1248.93 2231.12 1242.50 2286.95 1227.50C2342.78 1212.50 2398.60 1004.00 2454.43 1004.00C2510.26 1004.00 2566.08 1203.10 2621.91 1203.10C2677.74 1203.10 2733.56 1131.10 2789.39 1131.10C2845.22 1131.10 2901.04 1174.00 2956.87 1216.90" fill="none" stroke="#5fcfa6" stroke-width="2.670"/>
</svg>
<span style='position:absolute;left:142.10px;top:698.26px;font:400 16.00px/16.00px "Liberation Sans",sans-serif;color:#77736f;white-space:pre;letter-spacing:0.366px;'>180.0M</span>
<span style='position:absolute;left:142.10px;top:779.26px;font:400 16.00px/16.00px "Liberation Sans",sans-serif;color:#77736f;white-space:pre;letter-spacing:0.366px;'>135.0M</span>
<span style='position:absolute;left:151.30px;top:866.26px;font:400 16.00px/16.00px "Liberation Sans",sans-serif;color:#77736f;white-space:pre;letter-spacing:0.383px;'>90.0M</span>
<span style='position:absolute;left:151.30px;top:952.56px;font:400 16.00px/16.00px "Liberation Sans",sans-serif;color:#77736f;white-space:pre;letter-spacing:0.383px;'>45.0M</span>
<span style='position:absolute;left:188.40px;top:1038.86px;font:400 16.00px/16.00px "Liberation Sans",sans-serif;color:#77736f;white-space:pre;letter-spacing:0.000px;'>0</span>
<span style='position:absolute;left:2732.70px;top:698.26px;font:400 16.00px/16.00px "Liberation Sans",sans-serif;color:#77736f;white-space:pre;letter-spacing:0.627px;'>$1000</span>
<span style='position:absolute;left:2732.70px;top:779.26px;font:400 16.00px/16.00px "Liberation Sans",sans-serif;color:#77736f;white-space:pre;letter-spacing:0.668px;'>$750</span>
<span style='position:absolute;left:2732.70px;top:866.26px;font:400 16.00px/16.00px "Liberation Sans",sans-serif;color:#77736f;white-space:pre;letter-spacing:0.668px;'>$500</span>
<span style='position:absolute;left:2732.70px;top:952.56px;font:400 16.00px/16.00px "Liberation Sans",sans-serif;color:#77736f;white-space:pre;letter-spacing:0.668px;'>$250</span>
<span style='position:absolute;left:2732.70px;top:1038.86px;font:400 16.00px/16.00px "Liberation Sans",sans-serif;color:#77736f;white-space:pre;letter-spacing:1.003px;'>$0</span>
<span style='position:absolute;left:183.67px;top:1055.66px;font:400 16.00px/16.00px "Liberation Sans",sans-serif;color:#77736f;white-space:pre;letter-spacing:-0.139px;'>Nov 26</span>
<span style='position:absolute;left:351.15px;top:1055.66px;font:400 16.00px/16.00px "Liberation Sans",sans-serif;color:#77736f;white-space:pre;letter-spacing:-0.139px;'>Nov 27</span>
<span style='position:absolute;left:518.63px;top:1055.66px;font:400 16.00px/16.00px "Liberation Sans",sans-serif;color:#77736f;white-space:pre;letter-spacing:-0.139px;'>Nov 28</span>
<span style='position:absolute;left:686.11px;top:1055.66px;font:400 16.00px/16.00px "Liberation Sans",sans-serif;color:#77736f;white-space:pre;letter-spacing:-0.139px;'>Nov 29</span>
<span style='position:absolute;left:853.59px;top:1055.66px;font:400 16.00px/16.00px "Liberation Sans",sans-serif;color:#77736f;white-space:pre;letter-spacing:-0.139px;'>Nov 30</span>
<span style='position:absolute;left:1021.07px;top:1055.66px;font:400 16.00px/16.00px "Liberation Sans",sans-serif;color:#77736f;white-space:pre;letter-spacing:-0.139px;'>Dec 01</span>
<span style='position:absolute;left:1188.55px;top:1055.66px;font:400 16.00px/16.00px "Liberation Sans",sans-serif;color:#77736f;white-space:pre;letter-spacing:-0.139px;'>Dec 02</span>
<span style='position:absolute;left:1356.03px;top:1055.66px;font:400 16.00px/16.00px "Liberation Sans",sans-serif;color:#77736f;white-space:pre;letter-spacing:-0.139px;'>Dec 03</span>
<span style='position:absolute;left:1523.51px;top:1055.66px;font:400 16.00px/16.00px "Liberation Sans",sans-serif;color:#77736f;white-space:pre;letter-spacing:-0.139px;'>Dec 04</span>
<span style='position:absolute;left:1690.99px;top:1055.66px;font:400 16.00px/16.00px "Liberation Sans",sans-serif;color:#77736f;white-space:pre;letter-spacing:-0.139px;'>Dec 05</span>
<span style='position:absolute;left:1858.47px;top:1055.66px;font:400 16.00px/16.00px "Liberation Sans",sans-serif;color:#77736f;white-space:pre;letter-spacing:-0.139px;'>Dec 06</span>
<span style='position:absolute;left:2025.95px;top:1055.66px;font:400 16.00px/16.00px "Liberation Sans",sans-serif;color:#77736f;white-space:pre;letter-spacing:-0.139px;'>Dec 07</span>
<span style='position:absolute;left:2193.43px;top:1055.66px;font:400 16.00px/16.00px "Liberation Sans",sans-serif;color:#77736f;white-space:pre;letter-spacing:-0.139px;'>Dec 08</span>
<span style='position:absolute;left:2360.91px;top:1055.66px;font:400 16.00px/16.00px "Liberation Sans",sans-serif;color:#77736f;white-space:pre;letter-spacing:-0.139px;'>Dec 09</span>
<span style='position:absolute;left:2528.39px;top:1055.66px;font:400 16.00px/16.00px "Liberation Sans",sans-serif;color:#77736f;white-space:pre;letter-spacing:-0.139px;'>Dec 10</span>
<span style='position:absolute;left:2695.87px;top:1055.66px;font:400 16.00px/16.00px "Liberation Sans",sans-serif;color:#77736f;white-space:pre;letter-spacing:0.098px;'>Dec 11</span>
<div style="position:absolute;left:85.33px;top:1096.40px;width:1099.70px;height:489.30px;border:1.33px solid #302e2b;border-radius:16px;box-sizing:border-box;background:#191816"></div>
<div style="position:absolute;left:1201.30px;top:1096.40px;width:541.80px;height:489.30px;border:1.33px solid #302e2b;border-radius:16px;box-sizing:border-box;background:#191816"></div>
<div style="position:absolute;left:1759.20px;top:1096.40px;width:541.80px;height:489.30px;border:1.33px solid #302e2b;border-radius:16px;box-sizing:border-box;background:#191816"></div>
<div style="position:absolute;left:2317.00px;top:1096.40px;width:541.70px;height:489.30px;border:1.33px solid #302e2b;border-radius:16px;box-sizing:border-box;background:#191816"></div>
<svg style="position:absolute;left:101.95px;top:1144.95px;" width="21.30" height="21.30" viewBox="0 0 24 24" fill="none" stroke="#fafaf9" stroke-width="2" stroke-linecap="round" stroke-linejoin="round"><line x1="12" x2="12" y1="2" y2="22"/><path d="M17 5H9.500a3.500 3.500 0 0 0 0 7h5a3.500 3.500 0 0 1 0 7H6"/></svg>
<span style='position:absolute;left:134.40px;top:1144.54px;font:700 21.33px/21.33px "Liberation Sans",sans-serif;color:#fafaf9;white-space:pre;letter-spacing:-0.622px;'>Cost by Model</span>
<div style="position:absolute;left:107.57px;top:1238.27px;width:10.67px;height:10.67px;background:#4682b0;border-radius:50%"></div>
<span style='position:absolute;left:129.10px;top:1236.36px;font:400 16.00px/16.00px "Liberation Sans",sans-serif;color:#fafaf9;white-space:pre;letter-spacing:0.569px;-webkit-text-stroke:0.55px #fafaf9;'>claude-opus-4-5-thinking</span>
<div style="position:absolute;left:364.00px;top:1238.27px;width:575.00px;height:10.67px;border-radius:6px;background:linear-gradient(90deg,#3d5a65 0.00%,#3d5a65 96.75%,#fdf0b2 96.75%,#fdf0b2 100.00%)"></div>
<span style='position:absolute;left:983.70px;top:1237.39px;font:400 13.60px/13.60px "Liberation Sans",sans-serif;color:#9a9590;white-space:pre;letter-spacing:-0.073px;'>287.2M</span>
<span style='position:absolute;left:1053.39px;top:1236.93px;font:700 16.00px/16.00px "Liberation Mono",monospace;color:#fafaf9;white-space:pre;letter-spacing:0.000px;'>$1475.19</span>
<div style="position:absolute;left:107.57px;top:1278.14px;width:10.67px;height:10.67px;background:#e5793d;border-radius:50%"></div>
<span style='position:absolute;left:129.10px;top:1276.23px;font:400 16.00px/16.00px "Liberation Sans",sans-serif;color:#fafaf9;white-space:pre;letter-spacing:0.513px;-webkit-text-stroke:0.55px #fafaf9;'>gemini-3-pro-high</span>
<div style="position:absolute;left:364.00px;top:1278.14px;width:575.00px;height:10.67px;border-radius:6px;background:linear-gradient(90deg,#3d5a65 0.00%,#3d5a65 95.50%,#fdf0b2 95.50%,#fdf0b2 100.00%)"></div>
<span style='position:absolute;left:983.70px;top:1277.26px;font:400 13.60px/13.60px "Liberation Sans",sans-serif;color:#9a9590;white-space:pre;letter-spacing:-0.073px;'>134.2M</span>
<span style='position:absolute;left:1062.99px;top:1276.80px;font:700 16.00px/16.00px "Liberation Mono",monospace;color:#fafaf9;white-space:pre;letter-spacing:0.000px;'>$556.06</span>
<div style="position:absolute;left:107.57px;top:1318.01px;width:10.67px;height:10.67px;background:#e98a5b;border-radius:50%"></div>
<span style='position:absolute;left:129.10px;top:1316.10px;font:400 16.00px/16.00px "Liberation Sans",sans-serif;color:#fafaf9;white-space:pre;letter-spacing:0.548px;-webkit-text-stroke:0.55px #fafaf9;'>gemini-3-pro-preview</span>
<div style="position:absolute;left:364.00px;top:1318.01px;width:575.00px;height:10.67px;border-radius:6px;background:linear-gradient(90deg,#3d5a65 0.00%,#3d5a65 93.90%,#fdf0b2 93.90%,#fdf0b2 100.00%)"></div>
<span style='position:absolute;left:983.70px;top:1317.13px;font:400 13.60px/13.60px "Liberation Sans",sans-serif;color:#9a9590;white-space:pre;letter-spacing:-0.073px;'>129.2M</span>
<span style='position:absolute;left:1062.99px;top:1316.67px;font:700 16.00px/16.00px "Liberation Mono",monospace;color:#fafaf9;white-space:pre;letter-spacing:0.000px;'>$272.58</span>
<div style="position:absolute;left:107.57px;top:1357.88px;width:10.67px;height:10.67px;background:#5f7798;border-radius:50%"></div>
<span style='position:absolute;left:129.10px;top:1355.97px;font:400 16.00px/16.00px "Liberation Sans",sans-serif;color:#fafaf9;white-space:pre;letter-spacing:0.454px;-webkit-text-stroke:0.55px #fafaf9;'>claude-sonnet-4-5-202509…</span>
<div style="position:absolute;left:364.00px;top:1357.88px;width:575.00px;height:10.67px;border-radius:6px;background:linear-gradient(90deg,#3d5a65 0.00%,#3d5a65 1.20%,#fdf0b2 1.20%,#fdf0b2 11.55%,#d9a455 11.55%,#d9a455 60.70%,#8f3331 60.70%,#8f3331 100.00%)"></div>
<span style='position:absolute;left:998.70px;top:1357.00px;font:400 13.60px/13.60px "Liberation Sans",sans-serif;color:#9a9590;white-space:pre;letter-spacing:-0.079px;'>2.1M</span>
<span style='position:absolute;left:1062.99px;top:1356.54px;font:700 16.00px/16.00px "Liberation Mono",monospace;color:#fafaf9;white-space:pre;letter-spacing:0.000px;'>$190.16</span>
<div style="position:absolute;left:107.57px;top:1397.75px;width:10.67px;height:10.67px;background:#9cc26b;border-radius:50%"></div>
<span style='position:absolute;left:129.10px;top:1395.84px;font:400 16.00px/16.00px "Liberation Sans",sans-serif;color:#fafaf9;white-space:pre;letter-spacing:0.570px;-webkit-text-stroke:0.55px #fafaf9;'>claude-sonnet-4-5-thinking</span>
<div style="position:absolute;left:364.00px;top:1397.75px;width:575.00px;height:10.67px;border-radius:6px;background:linear-gradient(90deg,#3d5a65 0.00%,#3d5a65 92.70%,#fdf0b2 92.70%,#fdf0b2 100.00%)"></div>
<span style='position:absolute;left:991.20px;top:1396.87px;font:400 13.60px/13.60px "Liberation Sans",sans-serif;color:#9a9590;white-space:pre;letter-spacing:-0.075px;'>22.6M</span>
<span style='position:absolute;left:1072.59px;top:1396.41px;font:700 16.00px/16.00px "Liberation Mono",monospace;color:#fafaf9;white-space:pre;letter-spacing:0.000px;'>$72.18</span>
<div style="position:absolute;left:107.57px;top:1437.62px;width:10.67px;height:10.67px;background:#f2c866;border-radius:50%"></div>
<span style='position:absolute;left:129.10px;top:1435.71px;font:400 16.00px/16.00px "Liberation Sans",sans-serif;color:#fafaf9;white-space:pre;letter-spacing:0.591px;-webkit-text-stroke:0.55px #fafaf9;'>glm-4.6</span>
<div style="position:absolute;left:364.00px;top:1437.62px;width:575.00px;height:10.67px;border-radius:6px;background:linear-gradient(90deg,#3d5a65 0.00%,#3d5a65 13.40%,#fdf0b2 13.40%,#fdf0b2 22.45%,#8f3331 22.45%,#8f3331 100.00%)"></div>
<span style='position:absolute;left:998.70px;top:1436.74px;font:400 13.60px/13.60px "Liberation Sans",sans-serif;color:#9a9590;white-space:pre;letter-spacing:-0.079px;'>8.0M</span>
<span style='position:absolute;left:1072.59px;top:1436.28px;font:700 16.00px/16.00px "Liberation Mono",monospace;color:#fafaf9;white-space:pre;letter-spacing:0.000px;'>$29.95</span>
<div style="position:absolute;left:107.57px;top:1477.49px;width:10.67px;height:10.67px;background:#e57a3f;border-radius:50%"></div>
<span style='position:absolute;left:129.10px;top:1475.58px;font:400 16.00px/16.00px "Liberation Sans",sans-serif;color:#fafaf9;white-space:pre;letter-spacing:0.654px;-webkit-text-stroke:0.55px #fafaf9;'>claude-opus-4-5-20251101</span>
<div style="position:absolute;left:364.00px;top:1477.49px;width:575.00px;height:10.67px;border-radius:6px;background:linear-gradient(90deg,#3d5a65 0.00%,#3d5a65 2.40%,#fdf0b2 2.40%,#fdf0b2 15.66%,#d9a455 15.66%,#d9a455 74.30%,#8f3331 74.30%,#8f3331 100.00%)"></div>
<span style='position:absolute;left:998.70px;top:1476.61px;font:400 13.60px/13.60px "Liberation Sans",sans-serif;color:#9a9590;white-space:pre;letter-spacing:-0.588px;'>246K</span>
<span style='position:absolute;left:1072.59px;top:1476.15px;font:700 16.00px/16.00px "Liberation Mono",monospace;color:#fafaf9;white-space:pre;letter-spacing:0.000px;'>$23.71</span>
<div style="position:absolute;left:107.57px;top:1517.36px;width:10.67px;height:10.67px;background:#e5484d;border-radius:50%"></div>
<span style='position:absolute;left:129.10px;top:1515.45px;font:400 16.00px/16.00px "Liberation Sans",sans-serif;color:#fafaf9;white-space:pre;letter-spacing:0.495px;-webkit-text-stroke:0.55px #fafaf9;'>claude-sonnet-4-5</span>
<div style="position:absolute;left:364.00px;top:1517.36px;width:575.00px;height:10.67px;border-radius:6px;background:linear-gradient(90deg,#3d5a65 0.00%,#3d5a65 92.20%,#fdf0b2 92.20%,#fdf0b2 100.00%)"></div>
<span style='position:absolute;left:998.70px;top:1516.48px;font:400 13.60px/13.60px "Liberation Sans",sans-serif;color:#9a9590;white-space:pre;letter-spacing:-0.079px;'>6.2M</span>
<span style='position:absolute;left:1072.59px;top:1516.02px;font:700 16.00px/16.00px "Liberation Mono",monospace;color:#fafaf9;white-space:pre;letter-spacing:0.000px;'>$19.84</span>
<svg style="position:absolute;left:1217.75px;top:1144.95px;" width="21.30" height="21.30" viewBox="0 0 24 24" fill="none" stroke="#fafaf9" stroke-width="2" stroke-linecap="round" stroke-linejoin="round"><path d="M21.210 15.890A10 10 0 1 1 8 2.830"/><path d="M22 12A10 10 0 0 0 12 2v10z"/></svg>
<span style='position:absolute;left:1250.20px;top:1144.54px;font:700 21.33px/21.33px "Liberation Sans",sans-serif;color:#fafaf9;white-space:pre;letter-spacing:-0.617px;'>Model Usage</span>
<svg style="position:absolute;left:0;top:0" width="2880" height="1620" viewBox="236 236 2880 1620">
<path d="M1800.80 1626.95A93.0 93.0 0 0 0 1628.17 1579.56L1650.77 1593.20A66.6 66.6 0 0 1 1774.40 1627.14Z" fill="#427aa1" stroke="#f2efec" stroke-width="1.100" stroke-linejoin="round"/>
<path d="M1626.07 1583.22A93.0 93.0 0 0 0 1638.36 1689.47L1658.07 1671.90A66.6 66.6 0 0 1 1649.27 1595.82Z" fill="#e27a3f" stroke="#f2efec" stroke-width="1.100" stroke-linejoin="round"/>
<path d="M1640.79 1692.09A93.0 93.0 0 0 0 1740.22 1714.77L1731.01 1690.02A66.6 66.6 0 0 1 1659.81 1673.78Z" fill="#e98c5c" stroke="#f2efec" stroke-width="1.100" stroke-linejoin="round"/>
<path d="M1742.94 1713.71A93.0 93.0 0 0 0 1768.45 1698.11L1751.23 1678.09A66.6 66.6 0 0 1 1732.96 1689.26Z" fill="#5f8f8e" stroke="#f2efec" stroke-width="1.100" stroke-linejoin="round"/>
<path d="M1770.99 1695.84A93.0 93.0 0 0 0 1783.79 1681.21L1762.22 1665.99A66.6 66.6 0 0 1 1753.05 1676.47Z" fill="#9cc06f" stroke="#f2efec" stroke-width="1.100" stroke-linejoin="round"/>
<path d="M1785.80 1678.25A93.0 93.0 0 0 0 1788.90 1673.11L1765.88 1660.19A66.6 66.6 0 0 1 1763.66 1663.87Z" fill="#f0c25c" stroke="#f2efec" stroke-width="1.100" stroke-linejoin="round"/>
<path d="M1790.81 1669.53A93.0 93.0 0 0 0 1792.96 1664.98L1768.78 1654.37A66.6 66.6 0 0 1 1767.25 1657.63Z" fill="#e0454b" stroke="#f2efec" stroke-width="1.100" stroke-linejoin="round"/>
<path d="M1794.45 1661.38A93.0 93.0 0 0 0 1795.79 1657.72L1770.81 1649.17A66.6 66.6 0 0 1 1769.85 1651.79Z" fill="#5aa98b" stroke="#f2efec" stroke-width="1.100" stroke-linejoin="round"/>
<path d="M1796.88 1654.32A93.0 93.0 0 0 0 1797.29 1652.92L1771.88 1645.73A66.6 66.6 0 0 1 1771.59 1646.74Z" fill="#e26a6a" stroke="#f2efec" stroke-width="1.100" stroke-linejoin="round"/>
<path d="M1798.04 1650.10A93.0 93.0 0 0 0 1798.56 1647.89L1772.80 1642.13A66.6 66.6 0 0 1 1772.42 1643.71Z" fill="#9fb2c8" stroke="#f2efec" stroke-width="1.100" stroke-linejoin="round"/>
<path d="M1799.18 1644.87A93.0 93.0 0 0 0 1799.33 1644.07L1773.35 1639.39A66.6 66.6 0 0 1 1773.24 1639.97Z" fill="#1a1817" stroke="#f2efec" stroke-width="1.100" stroke-linejoin="round"/>
<path d="M1799.75 1641.51A93.0 93.0 0 0 0 1799.87 1640.70L1773.74 1636.98A66.6 66.6 0 0 1 1773.65 1637.56Z" fill="#1a1817" stroke="#f2efec" stroke-width="1.100" stroke-linejoin="round"/>
<path d="M1800.20 1638.13A93.0 93.0 0 0 0 1800.29 1637.32L1774.04 1634.56A66.6 66.6 0 0 1 1773.97 1635.14Z" fill="#1a1817" stroke="#f2efec" stroke-width="1.100" stroke-linejoin="round"/>
<path d="M1800.53 1634.73A93.0 93.0 0 0 0 1800.58 1633.93L1774.25 1632.13A66.6 66.6 0 0 1 1774.20 1632.71Z" fill="#1a1817" stroke="#f2efec" stroke-width="1.100" stroke-linejoin="round"/>
<path d="M1800.72 1631.49A93.0 93.0 0 0 0 1800.75 1630.68L1774.36 1629.81A66.6 66.6 0 0 1 1774.34 1630.39Z" fill="#1a1817" stroke="#f2efec" stroke-width="1.100" stroke-linejoin="round"/>
<path d="M1800.79 1628.74A93.0 93.0 0 0 0 1800.80 1628.09L1774.40 1627.95A66.6 66.6 0 0 1 1774.40 1628.41Z" fill="#1a1817" stroke="#f2efec" stroke-width="1.100" stroke-linejoin="round"/>
</svg>
<span style='position:absolute;left:1504.50px;top:1259.14px;font:400 21.33px/21.33px "Liberation Sans",sans-serif;color:#4a86b2;white-space:pre;letter-spacing:0.605px;'>45.3%</span>
<span style='position:absolute;left:1289.60px;top:1388.14px;font:400 21.33px/21.33px "Liberation Sans",sans-serif;color:#e27a3f;white-space:pre;letter-spacing:0.430px;'>21.2%</span>
<span style='position:absolute;left:1381.50px;top:1491.34px;font:400 21.33px/21.33px "Liberation Sans",sans-serif;color:#e98c5c;white-space:pre;letter-spacing:0.430px;'>20.4%</span>
<span style='position:absolute;left:1536.00px;top:1477.44px;font:400 21.33px/21.33px "Liberation Sans",sans-serif;color:#5f9493;white-space:pre;letter-spacing:0.128px;'>5.5%</span>
<svg style="position:absolute;left:1775.15px;top:1144.95px;" width="21.30" height="21.30" viewBox="0 0 24 24" fill="none" stroke="#fafaf9" stroke-width="2" stroke-linecap="round" stroke-linejoin="round"><polyline points="4 17 10 11 4 5"/><line x1="12" x2="20" y1="19" y2="19"/></svg>
<span style='position:absolute;left:1808.30px;top:1144.54px;font:700 21.33px/21.33px "Liberation Sans",sans-serif;color:#fafaf9;white-space:pre;letter-spacing:-0.632px;'>Session Stats</span>
<div style="position:absolute;left:1775.90px;top:1225.40px;width:248.70px;height:82.30px;background:#201c1a;border:1.33px solid #383431;border-radius:8px;box-sizing:border-box"></div>
<div style="position:absolute;left:2035.20px;top:1225.40px;width:248.30px;height:82.30px;background:#201c1a;border:1.33px solid #383431;border-radius:8px;box-sizing:border-box"></div>
<svg style="position:absolute;left:1861.84px;top:1244.34px;" width="21.33" height="21.33" viewBox="0 0 24 24" fill="none" stroke="#60a5fa" stroke-width="2" stroke-linecap="round" stroke-linejoin="round"><path d="M16 21v-2a4 4 0 0 0-4-4H6a4 4 0 0 0-4 4v2"/><circle cx="9" cy="7" r="4"/><path d="M22 21v-2a4 4 0 0 0-3-3.870"/><path d="M16 3.130a4 4 0 0 1 0 7.750"/></svg>
<span style='position:absolute;left:1891.70px;top:1241.82px;font:700 26.67px/26.67px "Liberation Sans",sans-serif;color:#60a5fa;white-space:pre;letter-spacing:1.550px;'>281</span>
<span style='position:absolute;left:1843.50px;top:1279.05px;font:400 14.00px/14.00px "Liberation Sans",sans-serif;color:#a8a29e;white-space:pre;letter-spacing:-0.460px;'>TOTAL SESSIONS</span>
<svg style="position:absolute;left:2100.93px;top:1244.34px;" width="21.33" height="21.33" viewBox="0 0 24 24" fill="none" stroke="#4ade80" stroke-width="2" stroke-linecap="round" stroke-linejoin="round"><path d="M4 14a1 1 0 0 1-.780-1.630l9.900-10.200a.5.5 0 0 1 .860.460l-1.920 6.020A1 1 0 0 0 13 10h7a1 1 0 0 1 .780 1.630l-9.900 10.200a.5.5 0 0 1-.860-.460l1.920-6.020A1 1 0 0 0 11 14z"/></svg>
<span style='position:absolute;left:2130.40px;top:1241.82px;font:700 26.67px/26.67px "Liberation Sans",sans-serif;color:#5bd87c;white-space:pre;letter-spacing:1.085px;'>$62.77</span>
<span style='position:absolute;left:2093.95px;top:1279.05px;font:400 14.00px/14.00px "Liberation Sans",sans-serif;color:#a8a29e;white-space:pre;letter-spacing:-0.516px;'>AVG COST/SESSION</span>
<svg style="position:absolute;left:1775.90px;top:1331.50px;" width="16.00" height="16.00" viewBox="0 0 24 24" fill="none" stroke="#a8a29e" stroke-width="2" stroke-linecap="round" stroke-linejoin="round"><circle cx="12" cy="12" r="10"/><polyline points="12 6 12 12 16 14"/></svg>
<span style='position:absolute;left:1797.40px;top:1332.16px;font:400 16.00px/16.00px "Liberation Sans",sans-serif;color:#a8a29e;white-space:pre;letter-spacing:0.326px;-webkit-text-stroke:0.35px #a8a29e;'>Recent Activity</span>
<div style="position:absolute;left:1775.90px;top:1356.30px;width:507.60px;height:54.00px;background:#201b1a;border-radius:5px"></div>
<span style='position:absolute;left:1783.90px;top:1366.96px;font:400 16.00px/16.00px "Liberation Sans",sans-serif;color:#fafaf9;white-space:pre;letter-spacing:-0.096px;-webkit-text-stroke:0.35px #fafaf9;'>VibeClaudeOS</span>
<span style='position:absolute;left:1783.90px;top:1386.72px;font:400 13.33px/13.33px "Liberation Sans",sans-serif;color:#a8a29e;white-space:pre;letter-spacing:-0.025px;'>less than a minute ago</span>
<span style='position:absolute;left:2208.09px;top:1367.53px;font:700 16.00px/16.00px "Liberation Mono",monospace;color:#fafaf9;white-space:pre;letter-spacing:0.000px;'>$110.97</span>
<span style='position:absolute;left:2208.80px;top:1386.72px;font:400 13.33px/13.33px "Liberation Sans",sans-serif;color:#a8a29e;white-space:pre;letter-spacing:0.145px;'>22.6M toks</span>
<div style="position:absolute;left:1775.90px;top:1419.30px;width:507.60px;height:54.00px;background:#201b1a;border-radius:5px"></div>
<span style='position:absolute;left:1783.90px;top:1429.96px;font:400 16.00px/16.00px "Liberation Sans",sans-serif;color:#fafaf9;white-space:pre;letter-spacing:-0.096px;-webkit-text-stroke:0.35px #fafaf9;'>VibeClaudeOS</span>
<span style='position:absolute;left:1783.90px;top:1449.72px;font:400 13.33px/13.33px "Liberation Sans",sans-serif;color:#a8a29e;white-space:pre;letter-spacing:-0.000px;'>about 1 hour ago</span>
<span style='position:absolute;left:2217.69px;top:1430.53px;font:700 16.00px/16.00px "Liberation Mono",monospace;color:#fafaf9;white-space:pre;letter-spacing:0.000px;'>$77.33</span>
<span style='position:absolute;left:2208.80px;top:1449.72px;font:400 13.33px/13.33px "Liberation Sans",sans-serif;color:#a8a29e;white-space:pre;letter-spacing:0.145px;'>16.6M toks</span>
<div style="position:absolute;left:1775.90px;top:1482.30px;width:507.60px;height:54.00px;background:#201b1a;border-radius:5px"></div>
<span style='position:absolute;left:1783.90px;top:1492.96px;font:400 16.00px/16.00px "Liberation Sans",sans-serif;color:#fafaf9;white-space:pre;letter-spacing:-0.096px;-webkit-text-stroke:0.35px #fafaf9;'>VibeClaudeOS</span>
<span style='position:absolute;left:1783.90px;top:1512.72px;font:400 13.33px/13.33px "Liberation Sans",sans-serif;color:#a8a29e;white-space:pre;letter-spacing:0.002px;'>about 3 hours ago</span>
<span style='position:absolute;left:2227.29px;top:1493.53px;font:700 16.00px/16.00px "Liberation Mono",monospace;color:#fafaf9;white-space:pre;letter-spacing:0.000px;'>$0.01</span>
<span style='position:absolute;left:2215.45px;top:1512.72px;font:400 13.33px/13.33px "Liberation Sans",sans-serif;color:#a8a29e;white-space:pre;letter-spacing:0.535px;'>3.1K toks</span>
<svg style="position:absolute;left:2338.65px;top:1149.95px;" width="21.30" height="21.30" viewBox="0 0 24 24" fill="none" stroke="#f59e0b" stroke-width="2" stroke-linecap="round" stroke-linejoin="round"><path d="M15 14c.2-1 .7-1.700 1.500-2.500 1-.9 1.500-2.200 1.500-3.500A6 6 0 0 0 6 8c0 1 .2 2.200 1.500 3.500.7.700 1.300 1.500 1.500 2.500"/><path d="M9 18h6"/><path d="M10 22h4"/></svg>
<span style='position:absolute;left:2371.20px;top:1150.44px;font:700 21.33px/21.33px "Liberation Sans",sans-serif;color:#fafaf9;white-space:pre;letter-spacing:-0.455px;'>Usage Insights</span>
<div style="position:absolute;left:2678.10px;top:1147.30px;width:157.70px;height:26.50px;background:#7f2421;border-radius:10px"></div>
<span style='position:absolute;left:2687.00px;top:1154.72px;font:700 13.33px/13.33px "Liberation Sans",sans-serif;color:#fdf2f0;white-space:pre;letter-spacing:0.337px;'>ATTENTION NEEDED</span>
<div style="position:absolute;left:2318.00px;top:1219.00px;width:539.40px;height:1.00px;background:#34312e"></div>
<div style="position:absolute;left:2318.00px;top:1391.00px;width:539.40px;height:1.00px;background:#34312e"></div>
<div style="position:absolute;left:2318.00px;top:1531.00px;width:539.40px;height:1.00px;background:#34312e"></div>
<svg style="position:absolute;left:2349.95px;top:1283.85px;" width="21.30" height="21.30" viewBox="0 0 24 24" fill="none" stroke="#facc15" stroke-width="2" stroke-linecap="round" stroke-linejoin="round"><path d="M4 14a1 1 0 0 1-.780-1.630l9.900-10.200a.5.5 0 0 1 .860.460l-1.920 6.020A1 1 0 0 0 13 10h7a1 1 0 0 1 .780 1.630l-9.900 10.200a.5.5 0 0 1-.860-.460l1.920-6.020A1 1 0 0 0 11 14z"/></svg>
<div style="position:absolute;left:2339.10px;top:1413.90px;width:42.60px;height:42.40px;background:#fde8d2;border-radius:12px"></div>
<svg style="position:absolute;left:2349.75px;top:1425.85px;" width="21.30" height="21.30" viewBox="0 0 24 24" fill="none" stroke="#ea8a3e" stroke-width="2" stroke-linecap="round" stroke-linejoin="round"><path d="m12 14 4-4"/><path d="M3.340 19a10 10 0 1 1 17.320 0"/></svg>
<span style='position:absolute;left:2398.00px;top:1278.70px;font:400 18.67px/18.67px "Liberation Sans",sans-serif;color:#fafaf9;white-space:pre;letter-spacing:0.577px;-webkit-text-stroke:0.4px #fafaf9;'>High Input</span>
<span style='position:absolute;left:2747.20px;top:1279.36px;font:400 16.00px/16.00px "Liberation Sans",sans-serif;color:#a8a29e;white-space:pre;letter-spacing:0.882px;'>2025-12-11</span>
<span style='position:absolute;left:2398.00px;top:1309.06px;font:400 16.00px/16.00px "Liberation Sans",sans-serif;color:#a8a29e;white-space:pre;letter-spacing:0.169px;'>Input tokens 3.3x above threshold (32.8M)</span>
<div style="position:absolute;left:2398.00px;top:1343.40px;width:204.40px;height:26.50px;background:#272220;border-radius:6px"></div>
<span style='position:absolute;left:2404.30px;top:1351.08px;font:700 13.33px/13.33px "Liberation Mono",monospace;color:#fafaf9;white-space:pre;letter-spacing:0.000px;'>claude-opus-4-5-thinking</span>
<span style='position:absolute;left:2398.00px;top:1418.60px;font:400 18.67px/18.67px "Liberation Sans",sans-serif;color:#fafaf9;white-space:pre;letter-spacing:0.242px;-webkit-text-stroke:0.4px #fafaf9;'>High I/O Ratio</span>
<span style='position:absolute;left:2747.20px;top:1419.26px;font:400 16.00px/16.00px "Liberation Sans",sans-serif;color:#a8a29e;white-space:pre;letter-spacing:0.882px;'>2025-12-11</span>
<span style='position:absolute;left:2398.00px;top:1448.96px;font:400 16.00px/16.00px "Liberation Sans",sans-serif;color:#a8a29e;white-space:pre;letter-spacing:0.193px;'>I/O ratio 1.8x above threshold (180:1)</span>
<div style="position:absolute;left:2398.00px;top:1483.30px;width:204.40px;height:26.50px;background:#272220;border-radius:6px"></div>
<span style='position:absolute;left:2404.30px;top:1490.98px;font:700 13.33px/13.33px "Liberation Mono",monospace;color:#fafaf9;white-space:pre;letter-spacing:0.000px;'>claude-opus-4-5-thinking</span>
<div id="rim"></div>
</div>
</body></html>
